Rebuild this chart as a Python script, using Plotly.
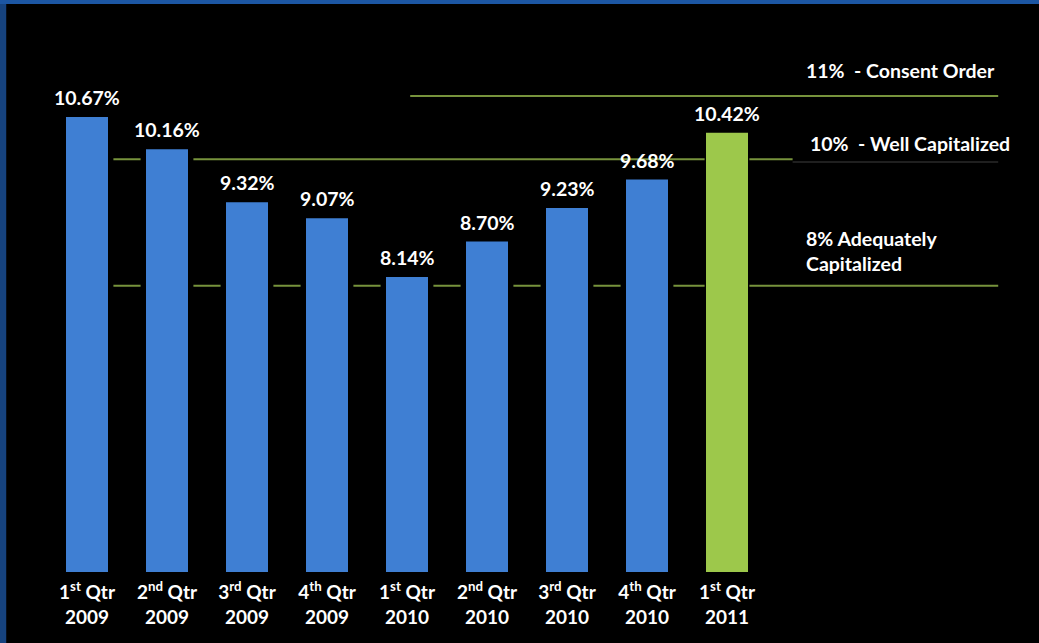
import plotly.graph_objects as go

quarters = ["1<sup>st</sup> Qtr<br>2009", "2<sup>nd</sup> Qtr<br>2009", "3<sup>rd</sup> Qtr<br>2009",
            "4<sup>th</sup> Qtr<br>2009", "1<sup>st</sup> Qtr<br>2010", "2<sup>nd</sup> Qtr<br>2010",
            "3<sup>rd</sup> Qtr<br>2010", "4<sup>th</sup> Qtr<br>2010", "1<sup>st</sup> Qtr<br>2011"]
ratios = [10.67, 10.16, 9.32, 9.07, 8.14, 8.70, 9.23, 9.68, 10.42]
bar_colors = ["#3f7fd3"] * 8 + ["#9dc84b"]

thresholds = [11, 10, 8]
threshold_labels = ["11%  - Consent Order", "10%  - Well Capitalized", "8% Adequately<br>Capitalized"]

FONT = "Lato"
x_idx = list(range(len(quarters)))

fig = go.Figure()
# dark halo behind each bar (breaks the reference lines around bars)
fig.add_trace(go.Bar(
    x=x_idx, y=ratios, width=[0.66] * 8 + [0.56],
    marker=dict(color="black", line=dict(width=0)),
    hoverinfo="skip",
))
fig.add_trace(go.Bar(
    x=x_idx, y=ratios,
    width=0.525,
    marker=dict(color=bar_colors, line=dict(width=0)),
    hoverinfo="skip",
))

shapes = []
line_color = "#77933c"
shapes.append(dict(type="line", xref="x", yref="y", x0=4.04, x1=11.39, y0=thresholds[0], y1=thresholds[0],
                   line=dict(color=line_color, width=2), layer="below"))
shapes.append(dict(type="line", xref="x", yref="y", x0=0.29, x1=8.82, y0=thresholds[1], y1=thresholds[1],
                   line=dict(color=line_color, width=2), layer="below"))
shapes.append(dict(type="line", xref="x", yref="y", x0=8.82, x1=11.39, y0=thresholds[1] - 0.04, y1=thresholds[1] - 0.04,
                   line=dict(color="#2a2a2a", width=1.5), layer="below"))
shapes.append(dict(type="line", xref="x", yref="y", x0=0.29, x1=11.39, y0=thresholds[2], y1=thresholds[2],
                   line=dict(color=line_color, width=2), layer="below"))
# slide frame
shapes.append(dict(type="rect", xref="paper", yref="paper", x0=0, x1=0.006, y0=-0.125, y1=1,
                   fillcolor="#16437f", line=dict(width=0), layer="above"))
shapes.append(dict(type="rect", xref="paper", yref="paper", x0=0, x1=1, y0=0.993, y1=1.0,
                   fillcolor="#1c56a3", line=dict(width=0), layer="above"))

annotations = [
    dict(x=804 / 1039, y=(572 - 70) / 572, text=threshold_labels[0]),
    dict(x=808 / 1039, y=(572 - 143) / 572, text=threshold_labels[1]),
    dict(x=804 / 1039, y=(572 - 251) / 572, text=threshold_labels[2]),
]
for a in annotations:
    a.update(xref="paper", yref="paper", xanchor="left", yanchor="middle", showarrow=False, align="left",
             font=dict(family=FONT, size=19.5, color="white", weight="bold"))

# value labels above bars
for xi, v in zip(x_idx, ratios):
    annotations.append(dict(x=xi, y=v, xref="x", yref="y", text=f"{v:.2f}%", showarrow=False,
                            xanchor="center", yanchor="bottom", yshift=6,
                            font=dict(family=FONT, size=19.5, color="white", weight="bold")))

fig.update_layout(
    width=1039, height=643,
    margin=dict(l=0, r=0, t=0, b=71),
    paper_bgcolor="black", plot_bgcolor="black",
    showlegend=False,
    barmode="overlay",
    shapes=shapes,
    annotations=annotations,
    xaxis=dict(range=[-1.0875, 11.9], tickmode="array", tickvals=x_idx, ticktext=quarters,
               showgrid=False, zeroline=False, showline=False, ticks="", ticklabelstandoff=7,
               tickfont=dict(family=FONT, size=19, color="white", weight="bold")),
    yaxis=dict(range=[3.475, 12.52], visible=False, showgrid=False, zeroline=False),
)

fig.write_html("out.html")
